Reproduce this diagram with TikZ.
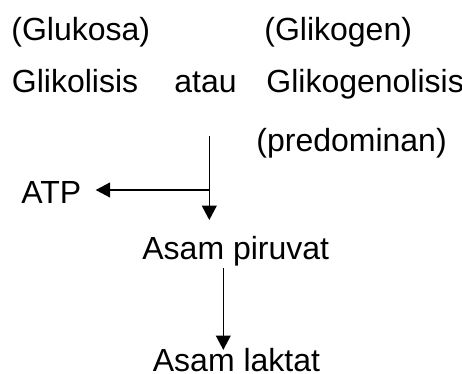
\documentclass[tikz,border=0pt]{standalone}
\usepackage{fontspec}
\setmainfont{Liberation Sans}
\usepackage{xcolor}
\usepackage{tikz}
\usetikzlibrary{positioning,arrows.meta,calc}
\tikzset{
  label-text/.style={inner sep=0pt, anchor=base west, font=\fontsize{16}{19}\selectfont},
  flow-arrow/.style={-{Triangle[length=7.2pt, width=7.4pt]}, line width=0.75pt, draw=black}
}

\begin{document}
\begin{tikzpicture}[x=0.5pt, y=-0.5pt]
\useasboundingbox (0,0) rectangle (462,374);
% Top rows: sources and pathways
\node[label-text] (glukosa) at (11,41) {(Glukosa)};
\node[label-text] (glikogen) at (264,41) {(Glikogen)};
\node[label-text] (glikolisis) at (11.5,93) {Glikolisis};
\node[label-text] (atau) at (174,93) {atau};
\node[label-text] (glikogenolisis) at (266,93) {Glikogenolisis};
\node[label-text] (predominan) at (256,152) {(predominan)};

% Products
\node[label-text] (atp) at (21,204) {ATP};
\node[label-text] (piruvat) at (142,260) {Asam piruvat};
\node[label-text] (laktat) at (152.5,371.5) {Asam laktat};

% Branch point
\coordinate (start) at (209.3,136);
\coordinate (split) at (209.3,190);

\draw[flow-arrow, shorten >=8.2pt] (start) -- (start |- piruvat.north);
\draw[flow-arrow, shorten >=7pt] (split) -- (split -| atp.east);
\draw[flow-arrow] ($(piruvat.south west)+(81.3,1)$) -- ($(laktat.north west)+(70.8,2)$);
\end{tikzpicture}
\end{document}
